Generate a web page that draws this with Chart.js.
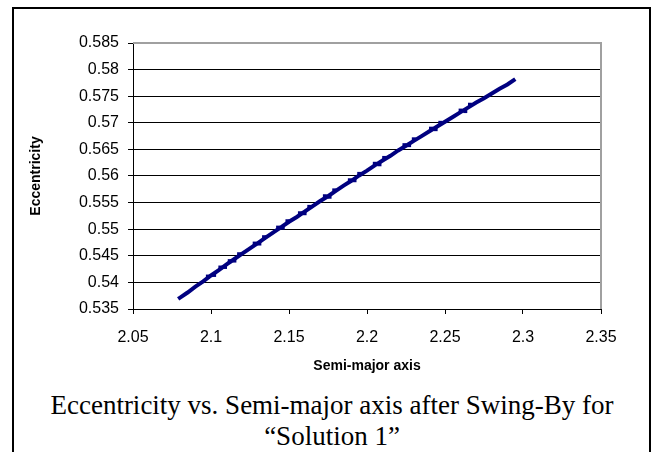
<!DOCTYPE html>
<html>
<head>
<meta charset="utf-8">
<script src="https://cdn.jsdelivr.net/npm/chart.js@4/dist/chart.umd.min.js"></script>
<style>
  body { margin: 0; background: #fff; width: 655px; height: 452px; overflow: hidden; position: relative; }
  #frame { position: absolute; left: 12px; top: 7px; width: 639px; height: 470px; border: 2px solid #000; box-sizing: border-box; }
  #wrap { position: absolute; left: 0; top: 0; width: 655px; height: 380px; }
  #caption { position: absolute; left: 12px; top: 390px; width: 640px; text-align: center;
    font-family: "Times New Roman", "Liberation Serif", serif; font-size: 27px; line-height: 31px; color: #000; }
</style>
</head>
<body>
<div id="frame"></div>
<div id="wrap"><canvas id="chart" width="655" height="380"></canvas></div>
<div id="caption">Eccentricity vs. Semi-major axis after Swing-By for<br>“Solution 1”</div>
<script>
// semi-major axis / eccentricity
const semiMajor = [2.080, 2.085, 2.090, 2.095, 2.100, 2.105, 2.110, 2.115, 2.120, 2.125,
  2.130, 2.135, 2.140, 2.145, 2.150, 2.155, 2.160, 2.165, 2.170, 2.175,
  2.180, 2.185, 2.190, 2.195, 2.200, 2.205, 2.210, 2.215, 2.220, 2.225,
  2.230, 2.235, 2.240, 2.245, 2.250, 2.255, 2.260, 2.265, 2.270, 2.275,
  2.280, 2.285, 2.290, 2.294];
const eccentricity = [0.5371, 0.5381, 0.5392, 0.5402, 0.5413, 0.5423, 0.5434, 0.5444, 0.5454, 0.5464,
  0.5474, 0.5484, 0.5494, 0.5504, 0.5514, 0.5523, 0.5533, 0.5543, 0.5553, 0.5562,
  0.5572, 0.5582, 0.5591, 0.5601, 0.5610, 0.5620, 0.5629, 0.5638, 0.5648, 0.5657,
  0.5666, 0.5675, 0.5684, 0.5693, 0.5702, 0.5711, 0.5720, 0.5729, 0.5738, 0.5746,
  0.5755, 0.5764, 0.5772, 0.5780];

// denser bunches of points along the curve
const clusterA = [2.098, 2.102, 2.106, 2.109, 2.112, 2.115, 2.118,
  2.128, 2.131, 2.134, 2.143, 2.146, 2.149, 2.157, 2.160, 2.163,
  2.173, 2.176, 2.179, 2.189, 2.192, 2.195, 2.205, 2.208, 2.211,
  2.224, 2.227, 2.230, 2.241, 2.244, 2.247, 2.260, 2.263, 2.266];
const clusterE = [0.5411, 0.5414, 0.5428, 0.5429, 0.5440, 0.5441, 0.5453,
  0.5473, 0.5473, 0.5485, 0.5503, 0.5503, 0.5515, 0.5530, 0.5530, 0.5542,
  0.5562, 0.5561, 0.5573, 0.5592, 0.5592, 0.5604, 0.5623, 0.5622, 0.5634,
  0.5658, 0.5658, 0.5669, 0.5689, 0.5688, 0.5700, 0.5723, 0.5722, 0.5734];

const xTicks = [2.05, 2.1, 2.15, 2.2, 2.25, 2.3, 2.35];
const xTickLabels = ['2.05', '2.1', '2.15', '2.2', '2.25', '2.3', '2.35'];
const yTicks = [0.535, 0.54, 0.545, 0.55, 0.555, 0.56, 0.565, 0.57, 0.575, 0.58, 0.585];
const yTickLabels = ['0.535', '0.54', '0.545', '0.55', '0.555', '0.56', '0.565', '0.57', '0.575', '0.58', '0.585'];

const navy = '#000080';
const tickFont = { family: 'Arial, "Liberation Sans", sans-serif', size: 16 };
const titleFont = { family: 'Arial, "Liberation Sans", sans-serif', size: 14, weight: 'bold' };

// gray frame on the top and right of the plot area, like Excel
const plotFrame = {
  id: 'plotFrame',
  afterDraw(chart) {
    const { ctx, chartArea: a } = chart;
    ctx.save();
    ctx.strokeStyle = '#a0a0a0';
    ctx.lineWidth = 2;
    ctx.beginPath();
    ctx.moveTo(a.left, a.top);
    ctx.lineTo(a.right, a.top);
    ctx.lineTo(a.right, a.bottom);
    ctx.stroke();
    ctx.restore();
  }
};

const ctx = document.getElementById('chart').getContext('2d');
const chart = new Chart(ctx, {
  type: 'scatter',
  data: {
    datasets: [{
      data: semiMajor.map((a, i) => ({ x: a, y: eccentricity[i] })),
      showLine: true,
      borderColor: navy,
      backgroundColor: navy,
      borderWidth: 4,
      borderCapStyle: 'square',
      pointRadius: 0,
      order: 2
    }, {
      data: clusterA.map((a, i) => ({ x: a, y: clusterE[i] })),
      showLine: false,
      pointStyle: 'rect',
      pointRadius: 2.8,
      borderWidth: 0,
      backgroundColor: navy,
      order: 1
    }]
  },
  options: {
    responsive: false,
    animation: false,
    devicePixelRatio: 1,
    layout: { padding: { top: 43, right: 54, left: 0, bottom: 0 } },
    plugins: { legend: { display: false }, tooltip: { enabled: false } },
    scales: {
      x: {
        type: 'linear',
        min: 2.05,
        max: 2.35,
        afterFit: s => { s.height = 71; },
        afterBuildTicks: s => { s.ticks = xTicks.map(v => ({ value: v })); },
        ticks: {
          color: '#000',
          font: tickFont,
          padding: 14,
          maxRotation: 0,
          callback: (v, i) => xTickLabels[i]
        },
        grid: { drawOnChartArea: false, drawTicks: true, tickLength: 5, color: '#000' },
        border: { color: '#000', width: 1 },
        title: { display: true, text: 'Semi-major axis', color: '#000', font: titleFont, padding: { top: 0, bottom: 5 } }
      },
      y: {
        min: 0.535,
        max: 0.585,
        afterFit: s => { s.width = 133; },
        afterBuildTicks: s => { s.ticks = yTicks.map(v => ({ value: v })); },
        ticks: {
          color: '#000',
          font: tickFont,
          padding: 9,
          callback: (v, i) => yTickLabels[i]
        },
        grid: { color: '#000', lineWidth: 1, tickLength: 5 },
        border: { color: '#000', width: 1 },
        title: { display: true, text: 'Eccentricity', color: '#000', font: titleFont, padding: { top: 28, bottom: 0 } }
      }
    }
  },
  plugins: [plotFrame]
});
</script>
</body>
</html>
